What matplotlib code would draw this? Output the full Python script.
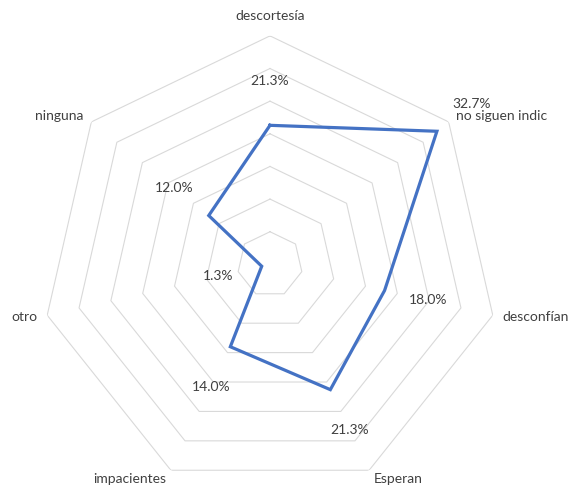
import matplotlib.pyplot as plt
import numpy as np

plt.rcParams['font.family'] = ['Lato', 'DejaVu Sans']

categories = ['descortesía', 'no siguen indic', 'desconfían', 'Esperan',
              'impacientes', 'otro', 'ninguna']
values = [21.3, 32.7, 18.0, 21.3, 14.0, 1.3, 12.0]
rings = [5, 10, 15, 20, 25, 30, 35]
rmax = 35

n = len(categories)
angles = np.arange(n) * 2 * np.pi / n

fig = plt.figure(figsize=(5.73, 4.88), dpi=100)
ax = fig.add_axes([0.0724, -0.010, 0.7976, 0.9365], projection='polar')
ax.set_theta_zero_location('N')
ax.set_theta_direction(-1)
ax.set_ylim(0, rmax)
ax.grid(False)
ax.spines['polar'].set_visible(False)
ax.set_xticks([])
ax.set_yticks([])
ax.patch.set_alpha(0)

# heptagon grid
closed = np.append(angles, angles[0])
for r in rings:
    ax.plot(closed, [r] * (n + 1), color='#d9d9d9', lw=0.8, zorder=1)

# data line
ax.plot(closed, values + [values[0]], color='#4472c4', lw=2.3, zorder=3,
        solid_joinstyle='miter')

txt_color = '#404040'

# data labels, pushed out along the spoke
for a, v in zip(angles, values):
    ax.text(a, v + 6.8, f'{v:.1f}%', ha='center', va='center',
            fontsize=10, color=txt_color)

# category labels just outside the outer ring
for a, c in zip(angles, categories):
    s, co = np.sin(a), np.cos(a)
    if abs(s) < 0.1:
        ha = 'center'
    elif s > 0:
        ha = 'left'
    else:
        ha = 'right'
    d = 20 if co > 0.95 else 10
    ax.annotate(c, xy=(a, rmax), xytext=(d * s * 0.72, d * co * 0.72),
                textcoords='offset points', ha=ha, va='center',
                fontsize=10, color=txt_color, annotation_clip=False)

fig.savefig('out.png', dpi=100)
